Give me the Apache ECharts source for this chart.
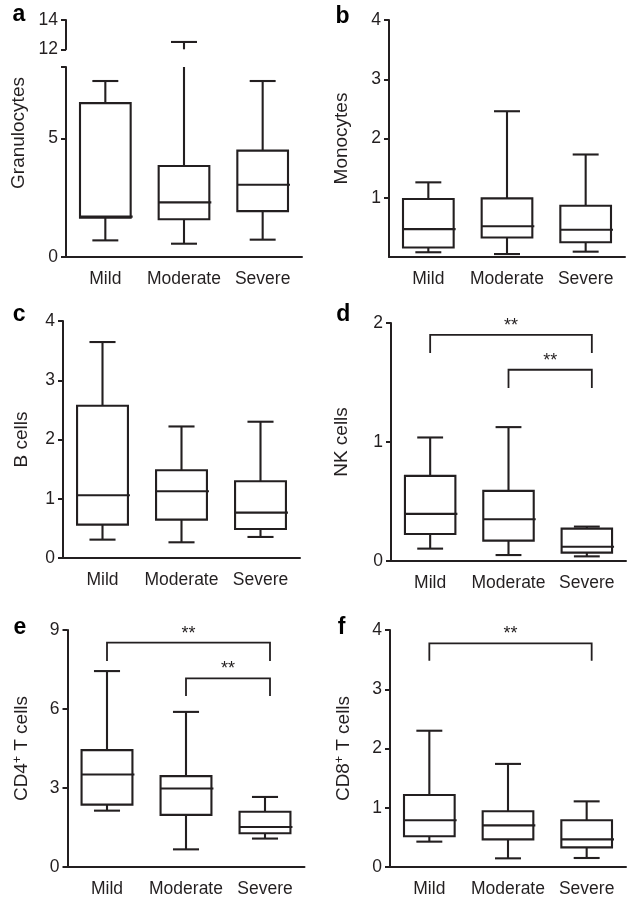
<!DOCTYPE html>
<html><head><meta charset="utf-8">
<script src="https://cdn.jsdelivr.net/npm/echarts@6/dist/echarts.min.js"></script>
<style>html,body{margin:0;padding:0;background:#fff}#c{width:630px;height:900px}</style>
</head><body><div id="c"></div>
<script>
// ---------- data ----------
const categories = ['Mild', 'Moderate', 'Severe'];
// each row: [min, Q1, median, Q3, max]
const granulocytes = [[0.70, 1.65, 1.70, 6.48, 7.41], [0.56, 1.59, 2.30, 3.83, 12.5], [0.73, 1.93, 3.04, 4.48, 7.41]];
const monocytes    = [[0.08, 0.16, 0.47, 0.98, 1.26], [0.05, 0.33, 0.52, 0.99, 2.46], [0.09, 0.25, 0.46, 0.865, 1.73]];
const bCells       = [[0.31, 0.563, 1.06, 2.57, 3.645], [0.265, 0.648, 1.127, 1.48, 2.22], [0.355, 0.49, 0.766, 1.296, 2.30]];
const nkCells      = [[0.104, 0.227, 0.396, 0.715, 1.038], [0.05, 0.171, 0.351, 0.589, 1.125], [0.039, 0.07, 0.12, 0.272, 0.289]];
const cd4Cells     = [[2.14, 2.37, 3.51, 4.44, 7.44], [0.67, 1.98, 2.98, 3.45, 5.89], [1.08, 1.28, 1.52, 2.10, 2.66]];
const cd8Cells     = [[0.428, 0.518, 0.788, 1.215, 2.30], [0.146, 0.467, 0.703, 0.94, 1.74], [0.152, 0.332, 0.467, 0.788, 1.108]];
// significance brackets: [fromCategory, toCategory, barValue, legEndValue]
const nkBrackets  = [[0, 2, 1.90, 1.747], [1, 2, 1.607, 1.453]];
const cd4Brackets = [[0, 2, 8.52, 7.82], [1, 2, 7.16, 6.49]];
const cd8Brackets = [[0, 2, 3.775, 3.48]];
const bracketLabel = '**';
// tick values
const granLowTicks = [0, 5];
const granHighTicks = [12, 14];
const monoTicks = [1, 2, 3, 4];
const panelLetters = ['a', 'b', 'c', 'd', 'e', 'f'];

// ---------- styling ----------
const INK = '#231f20';
const FONT = '"Liberation Sans", Arial, Helvetica, sans-serif';

const grids = [
  {left: 66,  top: 67,  width: 236, height: 190},   // a lower (0-8)
  {left: 66,  top: 20,  width: 236, height: 29.3},  // a upper (12-14)
  {left: 389, top: 20,  width: 236, height: 237},   // b
  {left: 63,  top: 321, width: 237, height: 237},   // c
  {left: 391, top: 323, width: 235, height: 238},   // d
  {left: 67.5,top: 630, width: 237, height: 237},   // e
  {left: 390, top: 630, width: 236, height: 237}    // f
].map(g => Object.assign({containLabel: false, outerBoundsMode: 'none'}, g));

function makeX(gi, show) {
  return {
    type: 'category', gridIndex: gi, data: categories, show: show, boundaryGap: true,
    axisLine: {onZero: false, lineStyle: {color: INK, width: 2}},
    axisTick: {alignWithLabel: true, interval: 0, length: 5, lineStyle: {color: INK, width: 2}},
    axisLabel: {interval: 0, hideOverlap: false, fontFamily: FONT, fontSize: 17.5, color: INK, margin: 13},
    splitLine: {show: false}
  };
}
function makeY(gi, o) {
  const ax = {
    type: 'value', gridIndex: gi, min: o.min, max: o.max,
    name: o.name || '', nameLocation: 'middle', nameRotate: 90, nameGap: o.nameGap || 30,
    nameTextStyle: {fontFamily: FONT, fontSize: 19, color: INK, padding: o.namePad || 0,
      rich: {sup: {fontFamily: FONT, fontSize: 12, color: INK, verticalAlign: 'top', padding: [0, 0, 8, 0]}}},
    axisLine: {show: true, onZero: false, lineStyle: {color: INK, width: 2}},
    axisTick: {show: true, length: 5, lineStyle: {color: INK, width: 2}},
    axisLabel: {show: true, fontFamily: FONT, fontSize: 17.5, color: INK, margin: 8},
    splitLine: {show: false}
  };
  if (o.interval) ax.interval = o.interval;
  if (o.ticks) ax.axisTick.customValues = o.ticks;
  if (o.labels) ax.axisLabel.customValues = o.labels;
  return ax;
}

function boxRenderer(lo, hi) {
  return function (params, api) {
    const c = api.value(0);
    const v = [api.value(1), api.value(2), api.value(3), api.value(4), api.value(5)];
    const band = api.size([1, 0])[0];
    const half = band * 0.322, capHalf = band * 0.165;
    const X = api.coord([c, lo])[0];
    const clamp = val => Math.max(lo, Math.min(hi, val));
    const Y = val => api.coord([c, clamp(val)])[1];
    const inR = val => val >= lo && val <= hi;
    const st = {stroke: INK, lineWidth: 2.1, fill: null};
    const ch = [];
    const seg = (a, b) => {
      if (b < lo || a > hi) return;
      ch.push({type: 'line', shape: {x1: X, y1: Y(a), x2: X, y2: Y(b)}, style: st});
    };
    seg(v[0], v[1]);
    seg(v[3], v[4]);
    if (inR(v[0])) ch.push({type: 'line', shape: {x1: X - capHalf, y1: Y(v[0]), x2: X + capHalf, y2: Y(v[0])}, style: st});
    if (inR(v[4])) ch.push({type: 'line', shape: {x1: X - capHalf, y1: Y(v[4]), x2: X + capHalf, y2: Y(v[4])}, style: st});
    if (!(v[3] < lo || v[1] > hi)) {
      const yT = Y(v[3]), yB = Y(v[1]);
      ch.push({type: 'rect', shape: {x: X - half, y: yT, width: half * 2, height: yB - yT}, style: {stroke: INK, lineWidth: 2.1, fill: 'none'}});
    }
    if (inR(v[2])) ch.push({type: 'line', shape: {x1: X - half, y1: Y(v[2]), x2: X + half + 2, y2: Y(v[2])}, style: st});
    return {type: 'group', children: ch};
  };
}
function bracketRenderer(params, api) {
  const a = api.value(0), b = api.value(1), bar = api.value(2), leg = api.value(3);
  const p1 = api.coord([a, leg]), p2 = api.coord([a, bar]);
  const p3 = api.coord([b, bar]), p4 = api.coord([b, leg]);
  const rx = p3[0] + 5;
  return {type: 'group', children: [
    {type: 'polyline', shape: {points: [[p1[0], p1[1]], [p2[0], p2[1]], [rx, p3[1]], [rx, p4[1]]]},
     style: {stroke: INK, lineWidth: 1.8, fill: null}},
    {type: 'text', x: (p2[0] + rx) / 2, y: p2[1],
     style: {text: bracketLabel, fill: INK, fontSize: 18, fontFamily: FONT, align: 'center', verticalAlign: 'bottom'}}
  ]};
}
function boxSeries(gi, arr, lo, hi) {
  return {type: 'custom', xAxisIndex: gi, yAxisIndex: gi, clip: false, silent: true,
    data: arr.map((r, i) => [i].concat(r)), encode: {x: 0, y: [1, 2, 3, 4, 5]},
    renderItem: boxRenderer(lo, hi)};
}
function bracketSeries(gi, arr) {
  return {type: 'custom', xAxisIndex: gi, yAxisIndex: gi, clip: false, silent: true,
    data: arr, encode: {x: [0, 1], y: [2, 3]}, renderItem: bracketRenderer};
}

const xAxis = [makeX(0, true), makeX(1, false), makeX(2, true), makeX(3, true), makeX(4, true), makeX(5, true), makeX(6, true)];
const yAxis = [
  makeY(0, {min: 0, max: 8, ticks: [0, 5, 8], labels: granLowTicks, name: 'Granulocytes', nameGap: 38, namePad: [0, 0, 0, 58]}),
  makeY(1, {min: 12, max: 14, interval: 2, ticks: granHighTicks, labels: granHighTicks}),
  makeY(2, {min: 0, max: 4, interval: 1, ticks: monoTicks, labels: monoTicks, name: 'Monocytes', nameGap: 38}),
  makeY(3, {min: 0, max: 4, interval: 1, name: 'B cells', nameGap: 32}),
  makeY(4, {min: 0, max: 2, interval: 1, name: 'NK cells', nameGap: 40}),
  makeY(5, {min: 0, max: 9, interval: 3, name: 'CD4{sup|+} T cells', nameGap: 36}),
  makeY(6, {min: 0, max: 4, interval: 1, name: 'CD8{sup|+} T cells', nameGap: 36})
];

const series = [
  boxSeries(0, granulocytes, 0, 8),
  boxSeries(1, granulocytes, 12, 14),
  boxSeries(2, monocytes, 0, 4),
  boxSeries(3, bCells, 0, 4),
  boxSeries(4, nkCells, 0, 2),
  boxSeries(5, cd4Cells, 0, 9),
  boxSeries(6, cd8Cells, 0, 4),
  bracketSeries(4, nkBrackets),
  bracketSeries(5, cd4Brackets),
  bracketSeries(6, cd8Brackets)
];

const letterPos = [[19, 14.7], [342.5, 16.3], [19.2, 314.7], [343.3, 314.7], [20, 628], [341.7, 628]];
const graphic = panelLetters.map((t, i) => ({
  type: 'text', x: letterPos[i][0], y: letterPos[i][1], silent: true,
  style: {text: t, fill: '#000', fontSize: 23, fontWeight: 'bold', fontFamily: FONT, align: 'center', verticalAlign: 'middle'}
}));

const chart = echarts.init(document.getElementById('c'), null, {renderer: 'canvas'});
chart.setOption({
  animation: false,
  backgroundColor: '#fff',
  textStyle: {fontFamily: FONT},
  grid: grids, xAxis: xAxis, yAxis: yAxis, series: series, graphic: graphic
});
</script></body></html>
